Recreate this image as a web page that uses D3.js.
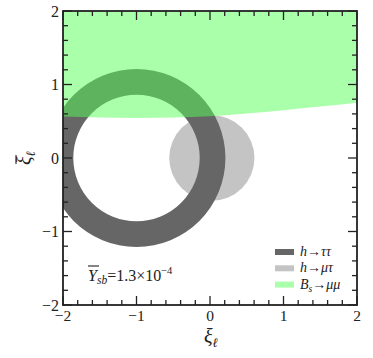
<!DOCTYPE html>
<html><head><meta charset="utf-8">
<script src="https://cdn.jsdelivr.net/npm/d3@7"></script>
<style>body{margin:0;background:#fff}svg{display:block}</style>
</head><body>
<script>
// ---- data ----
const xDomain = [-2, 2];
const yDomain = [-2, 2];
const majorTicks = [-2, -1, 0, 1, 2];
const tickLabels = ["\u22122", "\u22121", "0", "1", "2"];
const minorStep = 0.2;
// h -> tau tau ring: center and [inner, outer] radii
const ringCenter = [-1.0, 0.0];
const ringRadii = [0.86, 1.21];
// h -> mu tau disc
const discCenter = [0.025, 0.0];
const discRadius = 0.58;
// B_s -> mu mu allowed band: lower boundary (band extends to top)
const bandX = [-2, -1.5, -1, -0.5, 0, 0.5, 1, 1.5, 2];
const bandY = [0.565, 0.552, 0.545, 0.55, 0.568, 0.605, 0.65, 0.70, 0.753];
const legendLabels = ["h\u2192\u03c4\u03c4", "h\u2192\u03bc\u03c4", "B"];
const legendColors = ["#666666", "#c4c4c4", "#aaffaa"];

const FONT = "'Liberation Serif', 'Times New Roman', Times, serif";
const W = 373, H = 358;
const m = {l: 63, r: 16, t: 11, b: 53};
const svg = d3.select("body").append("svg").attr("width", W).attr("height", H)
  .attr("font-family", FONT);
const x = d3.scaleLinear().domain(xDomain).range([m.l, W - m.r]);
const y = d3.scaleLinear().domain(yDomain).range([H - m.b, m.t]);
const ux = x(1) - x(0);

svg.append("clipPath").attr("id", "clip").append("rect")
  .attr("x", x(-2)).attr("y", y(2)).attr("width", x(2) - x(-2)).attr("height", y(-2) - y(2));
const g = svg.append("g").attr("clip-path", "url(#clip)");

// disc
g.append("circle").attr("cx", x(discCenter[0])).attr("cy", y(discCenter[1]))
  .attr("r", discRadius * ux).attr("fill", "#c4c4c4");
// ring
const p = d3.path();
const cx = x(ringCenter[0]), cy = y(ringCenter[1]);
p.moveTo(cx + ringRadii[1] * ux, cy); p.arc(cx, cy, ringRadii[1] * ux, 0, 2 * Math.PI);
p.moveTo(cx + ringRadii[0] * ux, cy); p.arc(cx, cy, ringRadii[0] * ux, 0, 2 * Math.PI);
g.append("path").attr("d", p.toString()).attr("fill", "#666666").attr("fill-rule", "evenodd");
// band
const bandData = bandX.map((v, i) => [v, bandY[i]]);
const area = d3.area().x(d => x(d[0])).y0(y(2)).y1(d => y(d[1])).curve(d3.curveMonotoneX);
g.append("path").attr("d", area(bandData)).attr("fill", "#55ff55").attr("fill-opacity", 0.5);

// ticks
const minor = d3.range(-2, 2.0001, minorStep).map(v => Math.round(v * 10) / 10);
const tk = svg.append("g").attr("stroke", "#222").attr("stroke-width", 1.3);
minor.forEach(v => {
  const isMaj = Math.abs(v - Math.round(v)) < 1e-6;
  const L = isMaj ? 9 : 5;
  tk.append("line").attr("x1", x(v)).attr("x2", x(v)).attr("y1", y(-2)).attr("y2", y(-2) - L);
  tk.append("line").attr("x1", x(v)).attr("x2", x(v)).attr("y1", y(2)).attr("y2", y(2) + L);
  tk.append("line").attr("y1", y(v)).attr("y2", y(v)).attr("x1", x(-2)).attr("x2", x(-2) + L);
  tk.append("line").attr("y1", y(v)).attr("y2", y(v)).attr("x1", x(2)).attr("x2", x(2) - L);
});
svg.append("rect").attr("x", x(-2)).attr("y", y(2)).attr("width", x(2) - x(-2)).attr("height", y(-2) - y(2))
  .attr("fill", "none").attr("stroke", "#222").attr("stroke-width", 1.8);

// tick labels
majorTicks.forEach((v, i) => {
  svg.append("text").attr("x", x(v)).attr("y", y(-2) + 16).attr("text-anchor", "middle")
    .attr("font-size", 15.5).attr("fill", "#222").text(tickLabels[i]);
  svg.append("text").attr("x", x(-2) - 4).attr("y", y(v) + 5.5).attr("text-anchor", "end")
    .attr("font-size", 16).attr("fill", "#222").text(tickLabels[i]);
});

// x label
const xl = svg.append("text").attr("x", x(0) - 6).attr("y", 343).attr("font-size", 20).attr("font-style", "italic").attr("fill", "#222");
xl.append("tspan").text("\u03be");
xl.append("tspan").attr("font-size", 13).attr("dy", 4).text("\u2113");

// y label
const yg = svg.append("g").attr("transform", "translate(31,158) rotate(-90)");
const yt = yg.append("text").attr("x", -7).attr("y", 0).attr("font-size", 20).attr("font-style", "italic").attr("fill", "#222");
yt.append("tspan").text("\u03be");
yt.append("tspan").attr("font-size", 13).attr("dy", 4).text("\u2113");
yg.append("line").attr("x1", -6).attr("x2", 3).attr("y1", -15).attr("y2", -15).attr("stroke", "#222").attr("stroke-width", 1.1);

// annotation
const at = svg.append("text").attr("x", 88).attr("y", 281).attr("font-size", 16).attr("fill", "#222");
at.append("tspan").attr("font-style", "italic").text("Y");
at.append("tspan").attr("font-style", "italic").attr("font-size", 11.5).attr("dy", 3).text("sb");
at.append("tspan").attr("dy", -3).text("=1.3\u00d710");
at.append("tspan").attr("font-size", 10.5).attr("dy", -7).text("\u22124");
svg.append("line").attr("x1", 88).attr("x2", 99).attr("y1", 266).attr("y2", 266).attr("stroke", "#222").attr("stroke-width", 1.1);

// legend
const lg = svg.append("g");
legendColors.forEach((c, i) => {
  const yy = 249 + i * 16.3;
  lg.append("rect").attr("x", 275).attr("y", yy).attr("width", 19).attr("height", 6).attr("fill", c);
  const t = lg.append("text").attr("x", 300).attr("y", yy + 7).attr("font-size", 14).attr("font-style", "italic").attr("fill", "#222");
  if (i < 2) t.text(legendLabels[i]);
  else {
    t.append("tspan").text("B");
    t.append("tspan").attr("font-size", 9.5).attr("dy", 3).text("s");
    t.append("tspan").attr("dy", -3).text("\u2192\u03bc\u03bc");
  }
});
</script>
</body></html>
